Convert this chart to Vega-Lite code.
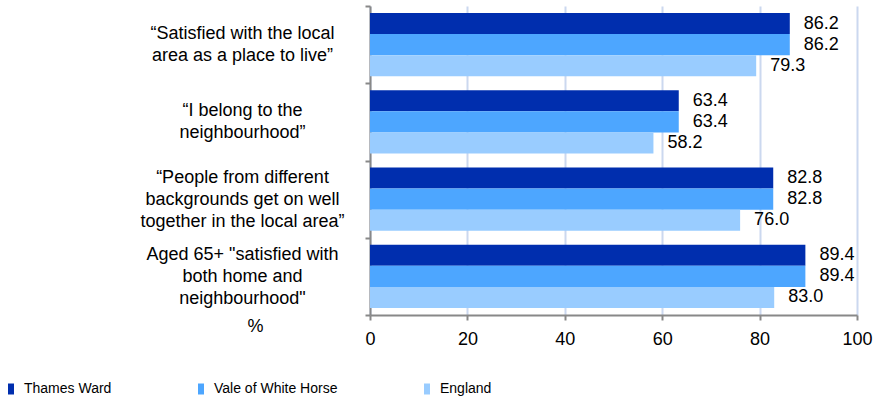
{
  "$schema": "https://vega.github.io/schema/vega-lite/v6.json",
  "width": 487,
  "height": 309,
  "autosize": {"type": "none"},
  "padding": {"left": 370, "top": 6, "right": 17, "bottom": 84},
  "background": "white",
  "config": {
    "font": "Liberation Sans",
    "view": {"stroke": null}
  },
  "data": {
    "values": [
      {"cat": "“Satisfied with the local|area as a place to live”", "series": "Thames Ward", "value": 86.2},
      {"cat": "“Satisfied with the local|area as a place to live”", "series": "Vale of White Horse", "value": 86.2},
      {"cat": "“Satisfied with the local|area as a place to live”", "series": "England", "value": 79.3},
      {"cat": "“I belong to the|neighbourhood”", "series": "Thames Ward", "value": 63.4},
      {"cat": "“I belong to the|neighbourhood”", "series": "Vale of White Horse", "value": 63.4},
      {"cat": "“I belong to the|neighbourhood”", "series": "England", "value": 58.2},
      {"cat": "“People from different|backgrounds get on well|together in the local area”", "series": "Thames Ward", "value": 82.8},
      {"cat": "“People from different|backgrounds get on well|together in the local area”", "series": "Vale of White Horse", "value": 82.8},
      {"cat": "“People from different|backgrounds get on well|together in the local area”", "series": "England", "value": 76.0},
      {"cat": "Aged 65+ \"satisfied with|both home and|neighbourhood\"", "series": "Thames Ward", "value": 89.4},
      {"cat": "Aged 65+ \"satisfied with|both home and|neighbourhood\"", "series": "Vale of White Horse", "value": 89.4},
      {"cat": "Aged 65+ \"satisfied with|both home and|neighbourhood\"", "series": "England", "value": 83.0}
    ]
  },
  "encoding": {
    "y": {
      "field": "cat",
      "type": "nominal",
      "sort": null,
      "scale": {"paddingInner": 0, "paddingOuter": 0},
      "axis": {
        "title": null,
        "labelExpr": "isValid(datum.value) ? split(datum.value, '|') : ''",
        "labelAlign": "center",
        "labelBaseline": "middle",
        "labelOffset": {"condition": {"test": "isValid(datum.value) && length(split(datum.value, '|')) == 3", "value": -22}, "value": -11},
        "labelPadding": 123,
        "labelFontSize": 18,
        "labelColor": "#000000",
        "labelLineHeight": 22,
        "labelLimit": 400,
        "tickBand": "extent",
        "tickSize": 5,
        "tickColor": "#888888",
        "tickWidth": 2,
        "domainColor": "#888888",
        "domainWidth": 2,
        "grid": false
      }
    },
    "yOffset": {
      "field": "series",
      "type": "nominal",
      "sort": ["Thames Ward", "Vale of White Horse", "England"],
      "scale": {"paddingInner": 0, "paddingOuter": 0.333}
    },
    "x": {
      "field": "value",
      "type": "quantitative",
      "scale": {"domain": [0, 100], "nice": false},
      "axis": {
        "values": [0, 20, 40, 60, 80, 100],
        "title": "%",
        "titleX": -115,
        "titleY": 11,
        "titleAlign": "center",
        "titleBaseline": "middle",
        "titleFontSize": 18,
        "titleFontWeight": "normal",
        "titleColor": "#000000",
        "labelFontSize": 18,
        "labelColor": "#000000",
        "labelPadding": 10,
        "labelFlush": false,
        "labelOverlap": false,
        "tickSize": 5,
        "tickColor": "#888888",
        "tickWidth": 2,
        "domainColor": "#888888",
        "domainWidth": 2,
        "grid": true,
        "gridColor": "#cbd8ef",
        "gridWidth": 2
      }
    }
  },
  "layer": [
    {
      "mark": {"type": "bar"},
      "encoding": {
        "color": {
          "field": "series",
          "type": "nominal",
          "sort": ["Thames Ward", "Vale of White Horse", "England"],
          "scale": {
            "domain": ["Thames Ward", "Vale of White Horse", "England"],
            "range": ["#002eae", "#4da6ff", "#99ccff"]
          },
          "legend": {
            "title": null,
            "orient": "none",
            "legendX": -366,
            "legendY": 376,
            "direction": "horizontal",
            "columns": 3,
            "columnPadding": 82,
            "symbolType": "M-0.55,-1H0.55V1H-0.55Z",
            "symbolSize": 121,
            "symbolStrokeWidth": 0,
            "labelFont": "Liberation Sans",
            "labelFontSize": 14,
            "labelColor": "#000000",
            "labelOffset": 6
          }
        }
      }
    },
    {
      "mark": {"type": "text", "align": "left", "baseline": "middle", "dx": 14, "fontSize": 18, "color": "#000000"},
      "encoding": {
        "text": {"field": "value", "type": "quantitative", "format": ".1f"}
      }
    }
  ]
}
